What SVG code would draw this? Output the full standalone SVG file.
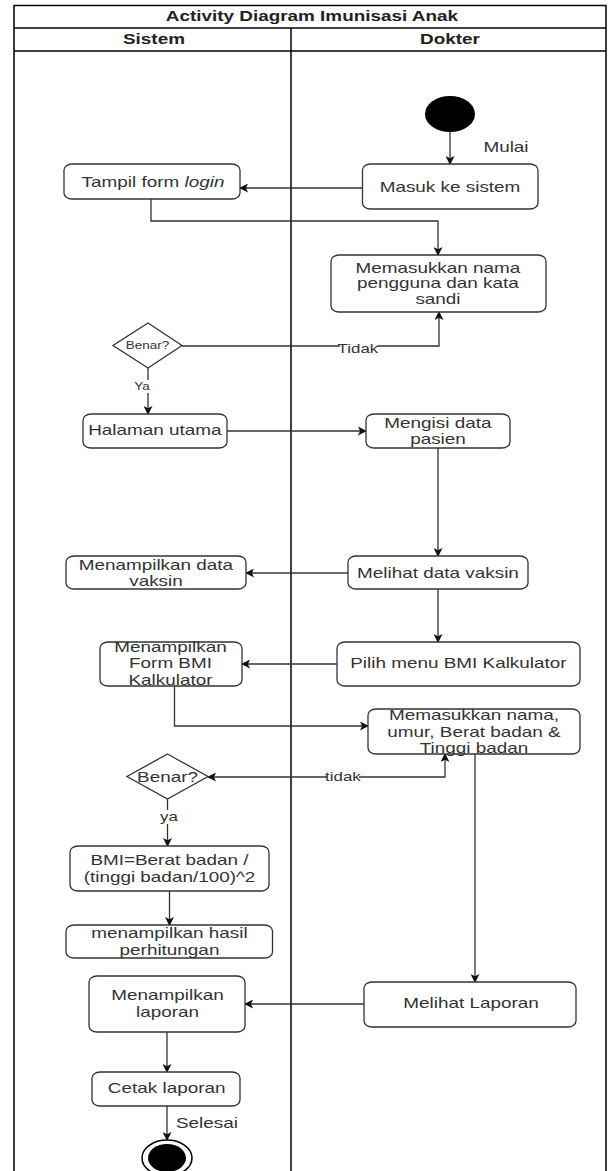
<svg xmlns="http://www.w3.org/2000/svg" width="608" height="1171" viewBox="0 0 608 1171">
<style>
.frame{fill:none;stroke:#000;stroke-width:1.5}
.node{fill:#fff;stroke:#333;stroke-width:1.3}
.t{font-family:"Liberation Sans",Arial,sans-serif;font-size:14px;fill:#333;text-anchor:middle;transform-box:fill-box;transform-origin:center;transform:scaleX(1.35)}
.b{font-weight:bold;fill:#222}
.s10{font-size:10px}
.s12{font-size:12.5px}
.conn{fill:none;stroke:#333;stroke-width:1.3;marker-end:url(#arr)}
.bg{fill:#fff}
</style>
<defs>
<marker id="arr" viewBox="0 0 10 10" refX="9" refY="5" markerWidth="10" markerHeight="9" markerUnits="userSpaceOnUse" orient="auto-start-reverse">
<path d="M0,0 L10,5 L0,10 L2.5,5 Z" fill="#111"/>
</marker>
</defs>
<rect width="608" height="1171" fill="#fff"/>
<g id="pool">
<rect class="frame" x="14" y="5.5" width="592" height="1200"/>
<line class="frame" x1="14" y1="28" x2="606" y2="28"/>
<line class="frame" x1="14" y1="51" x2="606" y2="51"/>
<line class="frame" x1="291" y1="28" x2="291" y2="1175"/>
<text class="t b" x="312" y="21.5">Activity Diagram Imunisasi Anak</text>
<text class="t b" x="154" y="44.5">Sistem</text>
<text class="t b" x="450" y="44.5">Dokter</text>
</g>
<g id="connectors">
<path class="conn" d="M450,132 L450,164"/>
<path class="conn" d="M362,188 L240,188"/>
<path class="conn" d="M151,199 L151,221 L438,221 L438,255"/>
<path class="conn" d="M182,346 L439,346 L439,312"/>
<path class="conn" d="M148,368 L148,414"/>
<path class="conn" d="M227,431 L366,431"/>
<path class="conn" d="M438,448 L438,556"/>
<path class="conn" d="M348,573 L246,573"/>
<path class="conn" d="M438,589 L438,642"/>
<path class="conn" d="M337,664 L242,664"/>
<path class="conn" d="M174.5,686 L174.5,726 L368,726"/>
<path class="conn" d="M445,754 L445,777 L208,777" marker-start="url(#arr)"/>
<path class="conn" d="M167.5,799 L167.5,846"/>
<path class="conn" d="M169.5,891 L169.5,925"/>
<path class="conn" d="M475,754 L475,982"/>
<path class="conn" d="M364,1004 L245,1004"/>
<path class="conn" d="M167,1032 L167,1072"/>
<path class="conn" d="M167,1106 L167,1140"/>
<rect class="bg" x="340" y="341" width="37" height="14"/>
<text class="t s12" x="358" y="353">Tidak</text>
<rect class="bg" x="137" y="380" width="12" height="13"/>
<text class="t s10" x="142" y="390">Ya</text>
<rect class="bg" x="327" y="771" width="32" height="12"/>
<text class="t s12" x="343" y="781">tidak</text>
<rect class="bg" x="160" y="810" width="17" height="14"/>
<text class="t s12" x="169" y="821">ya</text>
<text class="t" x="506" y="152">Mulai</text>
<text class="t" x="207" y="1128">Selesai</text>
</g>
<g id="start"><ellipse cx="450" cy="114" rx="25" ry="18" fill="#000"/></g>
<g id="end">
<ellipse cx="167" cy="1158" rx="25" ry="18" fill="#fff" stroke="#000" stroke-width="1.5"/>
<ellipse cx="167" cy="1158" rx="19" ry="14" fill="#000"/>
</g>
<g id="masuk"><rect class="node" x="362.5" y="164" width="175.5" height="45" rx="8" ry="6"/><text class="t" x="450" y="192">Masuk ke sistem</text></g>
<g id="tampil"><rect class="node" x="64" y="164" width="176" height="35" rx="8" ry="6"/><text class="t" x="153" y="187">Tampil form <tspan font-style="italic">login</tspan></text></g>
<g id="memasukkan1"><rect class="node" x="331" y="255" width="215" height="57" rx="8" ry="6"/>
<text class="t" x="438" y="273">Memasukkan nama</text><text class="t" x="438" y="288.5">pengguna dan kata</text><text class="t" x="438" y="304">sandi</text></g>
<g id="benar1"><polygon class="node" points="148,323 182,345.5 148,368 113,345.5"/><text class="t s10" x="147.5" y="349.5">Benar?</text></g>
<g id="halaman"><rect class="node" x="83" y="414" width="144" height="34" rx="8" ry="6"/><text class="t" x="155" y="435.5">Halaman utama</text></g>
<g id="mengisi"><rect class="node" x="366" y="414" width="144" height="34" rx="8" ry="6"/><text class="t" x="438" y="428">Mengisi data</text><text class="t" x="438" y="444">pasien</text></g>
<g id="melihatvaksin"><rect class="node" x="348" y="556" width="180" height="33" rx="8" ry="6"/><text class="t" x="438" y="578">Melihat data vaksin</text></g>
<g id="tampilvaksin"><rect class="node" x="66" y="556" width="180" height="33" rx="8" ry="6"/><text class="t" x="156" y="570">Menampilkan data</text><text class="t" x="156" y="586">vaksin</text></g>
<g id="pilih"><rect class="node" x="337" y="642" width="243" height="44" rx="8" ry="6"/><text class="t" x="458.5" y="668">Pilih menu BMI Kalkulator</text></g>
<g id="formbmi"><rect class="node" x="100" y="642" width="142" height="44" rx="8" ry="6"/>
<text class="t" x="170.5" y="652">Menampilkan</text><text class="t" x="170.5" y="668">Form BMI</text><text class="t" x="170.5" y="685">Kalkulator</text></g>
<g id="memasukkan2"><rect class="node" x="368" y="709" width="212" height="45" rx="8" ry="6"/>
<text class="t" x="474" y="720">Memasukkan nama,</text><text class="t" x="474" y="737">umur, Berat badan &amp;</text><text class="t" x="474" y="753">Tinggi badan</text></g>
<g id="benar2"><polygon class="node" points="167.5,754 208,776.5 167.5,799 127,776.5"/><text class="t" x="167.5" y="782">Benar?</text></g>
<g id="bmi"><rect class="node" x="70" y="846" width="199" height="45" rx="8" ry="6"/>
<text class="t" x="169.5" y="865">BMI=Berat badan /</text><text class="t" x="169.5" y="882">(tinggi badan/100)^2</text></g>
<g id="hasil"><rect class="node" x="66" y="925" width="206.5" height="33" rx="8" ry="6"/>
<text class="t" x="169.5" y="938">menampilkan hasil</text><text class="t" x="169.5" y="955">perhitungan</text></g>
<g id="melihatlaporan"><rect class="node" x="364" y="982" width="212" height="45" rx="8" ry="6"/><text class="t" x="471" y="1008">Melihat Laporan</text></g>
<g id="tampillaporan"><rect class="node" x="89" y="976" width="156" height="56" rx="8" ry="6"/>
<text class="t" x="167.5" y="1000">Menampilkan</text><text class="t" x="167.5" y="1017">laporan</text></g>
<g id="cetak"><rect class="node" x="92" y="1072" width="148" height="34" rx="8" ry="6"/><text class="t" x="166.7" y="1093">Cetak laporan</text></g>
</svg>
